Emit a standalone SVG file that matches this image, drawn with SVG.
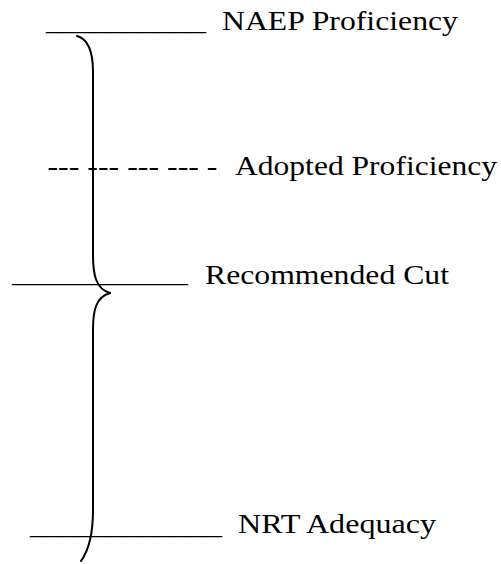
<svg xmlns="http://www.w3.org/2000/svg" width="501" height="564" viewBox="0 0 501 564">
  <style>
    .t { font-family: 'Liberation Serif', 'Times New Roman', Times, serif; font-size: 27px; fill: #000; }
    .brace { fill: none; stroke: #000; stroke-width: 2; stroke-linecap: round; stroke-linejoin: round; }
  </style>
  <rect width="501" height="564" fill="#fff"/>
  <g id="naep-proficiency">
    <text class="t" x="46" y="29.7" textLength="160" lengthAdjust="spacingAndGlyphs">__________</text>
    <text class="t" x="222" y="30" textLength="236" lengthAdjust="spacingAndGlyphs">NAEP Proficiency</text>
  </g>
  <g id="adopted-proficiency">
    <text class="t" x="47.5" y="175" textLength="170" lengthAdjust="spacingAndGlyphs">--- --- --- --- -</text>
    <text class="t" x="235" y="175" textLength="262" lengthAdjust="spacingAndGlyphs">Adopted Proficiency</text>
  </g>
  <g id="recommended-cut">
    <text class="t" x="12" y="281.5" textLength="176" lengthAdjust="spacingAndGlyphs">___________</text>
    <text class="t" x="205" y="284" textLength="244" lengthAdjust="spacingAndGlyphs">Recommended Cut</text>
  </g>
  <g id="nrt-adequacy">
    <text class="t" x="30" y="534" textLength="192" lengthAdjust="spacingAndGlyphs">____________</text>
    <text class="t" x="238" y="532.7" textLength="198" lengthAdjust="spacingAndGlyphs">NRT Adequacy</text>
  </g>
  <g id="connectors">
    <path class="brace" d="M77,36 C88,39 93,52 93,72 L93,255 C93,275 96,289 110,293"/>
    <path class="brace" d="M110,293 C96,297 93,310 93,330 L93,510 C93,535 89,550 81,561"/>
  </g>
</svg>
